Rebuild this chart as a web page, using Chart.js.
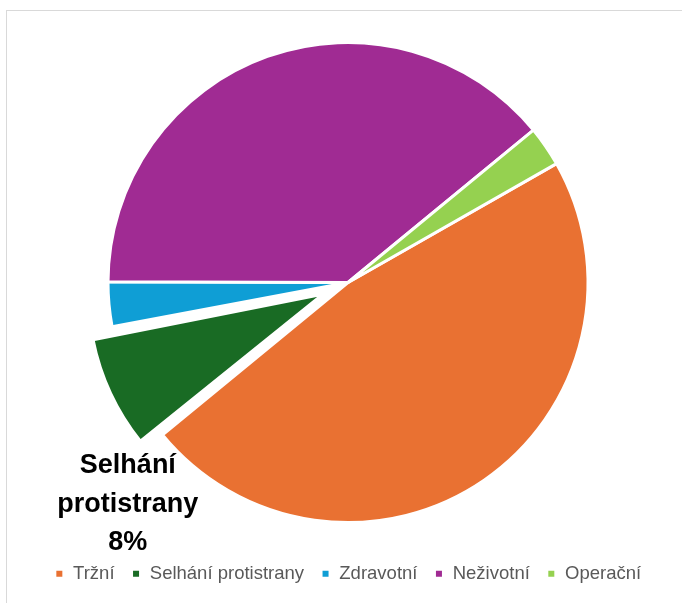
<!DOCTYPE html>
<html>
<head>
<meta charset="utf-8">
<script src="https://cdn.jsdelivr.net/npm/chart.js@4"></script>
<style>
    body { margin: 0; background: #fff; overflow: hidden; }
    #wrap { position: relative; width: 682px; height: 603px; }
    #frame { position: absolute; left: 6px; top: 10px; width: 700px; height: 620px; border: 1.5px solid #d9d9d9; }
    canvas { position: absolute; left: 0; top: 0; }
</style>
</head>
<body>
<div id="wrap">
    <div id="frame"></div>
    <canvas id="riskChart" width="682" height="603"></canvas>
</div>
<script>
// ==========================================
// DATA
// ==========================================
const categories = ['Tržní', 'Selhání protistrany', 'Zdravotní', 'Neživotní', 'Operační'];
const shares = [47.3, 8.0, 3.0, 39.0, 2.7];
const sliceColors = ['#E97132', '#196B24', '#0F9ED5', '#A02B93', '#95D150'];
const explodedIndex = 1;   // only this slice is pulled out and labelled

// ==========================================
// PLUGINS
// ==========================================

// the library grows an offset slice's radius; shrink it back so it sits a bit inside the rest
const explodeFix = {
    id: 'explodeFix',
    afterDatasetsUpdate(chart) {
        const arc = chart.getDatasetMeta(0).data[explodedIndex];
        const shift = (arc.options.offset || 0) / 4;
        const circ = arc.endAngle - arc.startAngle;
        const grow = shift * (1 - Math.sin(Math.min(Math.PI, circ)));
        arc.outerRadius = arc.outerRadius - grow - 6;
    }
};

// bold label under the pulled-out slice
const sliceLabel = {
    id: 'sliceLabel',
    afterDatasetsDraw(chart) {
        const arc = chart.getDatasetMeta(0).data[explodedIndex];
        const half = (arc.startAngle + arc.endAngle) / 2;
        const shift = (arc.options.offset || 0) / 4;
        const cx = arc.x + Math.cos(half) * shift;
        const cy = arc.y + Math.sin(half) * shift;
        const r = arc.outerRadius + shift * (1 - Math.sin(Math.min(Math.PI, arc.endAngle - arc.startAngle)));
        // lower outer corner of the slice
        const cornerX = cx + Math.cos(arc.startAngle) * r;
        const cornerY = cy + Math.sin(arc.startAngle) * r;

        const total = shares.reduce((s, v) => s + v, 0);
        const pct = Math.round(shares[explodedIndex] / total * 100) + '%';
        const words = categories[explodedIndex].split(' ');
        const lines = [...words, pct];

        const ctx = chart.ctx;
        ctx.save();
        ctx.font = 'bold 27px "Liberation Sans", Arial, sans-serif';
        ctx.fillStyle = '#000';
        ctx.textAlign = 'center';
        ctx.textBaseline = 'middle';
        lines.forEach((t, i) => ctx.fillText(t, cornerX - 14, cornerY + 23 + i * 38.5));
        ctx.restore();
    }
};

// ==========================================
// CHART
// ==========================================
new Chart(document.getElementById('riskChart'), {
    type: 'pie',
    data: {
        labels: categories,
        datasets: [{
            data: shares,
            backgroundColor: sliceColors,
            borderColor: '#ffffff',
            borderWidth: 3,
            offset: categories.map((c, i) => i === explodedIndex ? 112 : 0),
            hoverOffset: 0
        }]
    },
    options: {
        responsive: false,
        animation: false,
        events: [],
        rotation: 60.3,
        radius: 240,
        layout: { padding: { left: 14, right: 0, top: 17.5, bottom: 10 } },
        plugins: {
            tooltip: { enabled: false },
            legend: {
                position: 'bottom',
                labels: {
                    boxWidth: 9,
                    boxHeight: 9,
                    padding: 17,
                    color: '#595959',
                    font: { family: '"Liberation Sans", Arial, sans-serif', size: 18.5 }
                }
            }
        }
    },
    plugins: [explodeFix, sliceLabel]
});
</script>
</body>
</html>
